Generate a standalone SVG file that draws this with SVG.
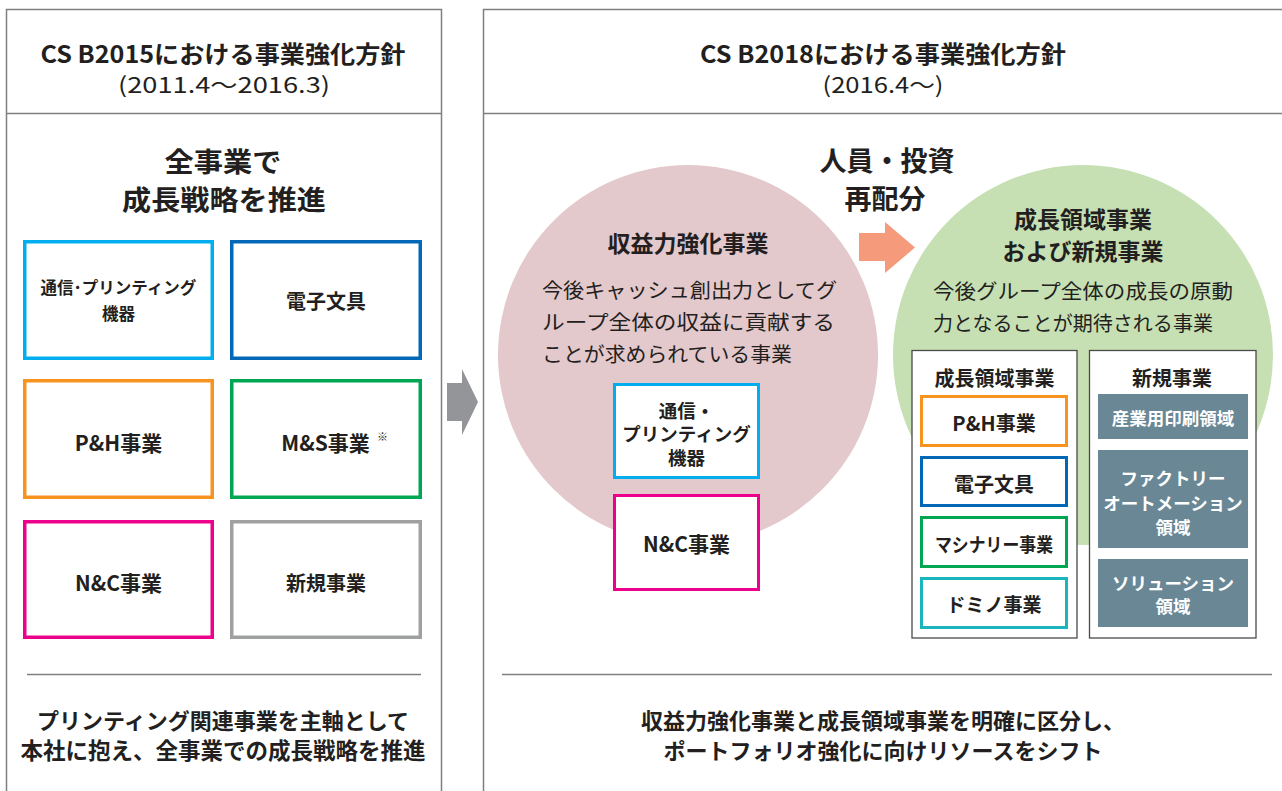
<svg xmlns="http://www.w3.org/2000/svg" width="1282" height="791" viewBox="0 0 1282 791">
<style>
text{font-family:"Noto Sans CJK JP","Noto Sans",sans-serif;fill:#231f20;dominant-baseline:central;text-anchor:middle}
.b{font-weight:700}
.r{font-weight:400}
.l{text-anchor:start}
.w{fill:#ffffff}
.frame{fill:none;stroke:#7f7f7f;stroke-width:1.5}
.rule{fill:none;stroke:#808080;stroke-width:1.3}
.box{fill:#ffffff;stroke-width:3.5}
.ibox{fill:#ffffff;stroke-width:3}
.outer{fill:#ffffff;stroke:#4a4a4a;stroke-width:1.3}
.slate{fill:#6a8796}
</style>
<rect width="1282" height="791" fill="#ffffff"/>

<g id="panel-left">
<path class="frame" d="M6.5,800 V9.5 H441.5 V800 M6.5,113.5 H441.5"/>
<text class="b" x="223" y="52" font-size="24" textLength="365" lengthAdjust="spacingAndGlyphs">CS B2015における事業強化方針</text>
<text class="r" x="224" y="83" font-size="22" textLength="212" lengthAdjust="spacingAndGlyphs">(2011.4～2016.3)</text>
<text class="b" x="223" y="159.5" font-size="27.5" textLength="117" lengthAdjust="spacingAndGlyphs">全事業で</text>
<text class="b" x="224" y="197.5" font-size="27.5" textLength="204" lengthAdjust="spacingAndGlyphs">成長戦略を推進</text>
<path class="rule" d="M27,674.5 H421"/>
<text class="b" x="223" y="719" font-size="22">プリンティング関連事業を主軸として</text>
<text class="b" x="223" y="749" font-size="22.5">本社に抱え、全事業での成長戦略を推進</text>
</g>

<g id="node-tsushin">
<rect class="box" x="24.75" y="241.75" width="187.5" height="116.5" stroke="#00aeef"/>
<text class="b" x="118.5" y="287" font-size="16.5">通信･プリンティング</text>
<text class="b" x="118.5" y="313" font-size="16.5">機器</text>
</g>
<g id="node-denshi">
<rect class="box" x="231.75" y="241.75" width="188.5" height="116.5" stroke="#0068b7"/>
<text class="b" x="326" y="300" font-size="20">電子文具</text>
</g>
<g id="node-ph">
<rect class="box" x="24.75" y="380.75" width="187.5" height="116.5" stroke="#f7931e"/>
<text class="b" x="118.5" y="442" font-size="21">P&amp;H事業</text>
</g>
<g id="node-ms">
<rect class="box" x="231.75" y="380.75" width="188.5" height="116.5" stroke="#00a651"/>
<text class="b" x="325.5" y="442" font-size="21">M&amp;S事業</text>
<text class="r l" x="377" y="436" font-size="11">※</text>
</g>
<g id="node-nc">
<rect class="box" x="24.75" y="521.75" width="187.5" height="115.5" stroke="#ec008c"/>
<text class="b" x="118.5" y="582" font-size="21">N&amp;C事業</text>
</g>
<g id="node-shinki">
<rect class="box" x="231.75" y="521.75" width="188.5" height="115.5" stroke="#9fa0a0"/>
<text class="b" x="326" y="582" font-size="20">新規事業</text>
</g>

<g id="connectors">
<polygon points="447,383 462,383 462,369 478,402 462,435 462,421 447,421" fill="#939598"/>
<polygon points="859,233 885,233 885,222 915,247.5 885,273 885,261 859,261" fill="#f59a7b"/>
</g>

<g id="panel-right">
<path class="frame" d="M483.5,800 V9.5 H1290 M483.5,113.5 H1290"/>
<text class="b" x="883" y="52" font-size="24" textLength="366" lengthAdjust="spacingAndGlyphs">CS B2018における事業強化方針</text>
<text class="r" x="883" y="83" font-size="22" textLength="121" lengthAdjust="spacingAndGlyphs">(2016.4～)</text>
<text class="b" x="887" y="159" font-size="27">人員・投資</text>
<text class="b" x="885" y="197" font-size="27">再配分</text>
<path class="rule" d="M502,674.5 H1272"/>
<text class="b" x="883" y="719" font-size="22">収益力強化事業と成長領域事業を明確に区分し、</text>
<text class="b" x="883" y="749" font-size="22">ポートフォリオ強化に向けリソースをシフト</text>
</g>

<g id="node-shueki">
<circle cx="688" cy="355" r="190" fill="#e3c8cc"/>
<text class="b" x="688" y="242" font-size="23">収益力強化事業</text>
<text class="r l" x="542" y="289" font-size="20.5" textLength="295" lengthAdjust="spacingAndGlyphs">今後キャッシュ創出力としてグ</text>
<text class="r l" x="542" y="321" font-size="20.5" textLength="293" lengthAdjust="spacingAndGlyphs">ループ全体の収益に貢献する</text>
<text class="r l" x="542" y="353" font-size="20.5" textLength="250" lengthAdjust="spacingAndGlyphs">ことが求められている事業</text>
</g>
<g id="node-tsushin2">
<rect class="ibox" x="614.5" y="384.5" width="144" height="93" stroke="#00aeef"/>
<text class="b" x="686.5" y="409.5" font-size="18.5">通信・</text>
<text class="b" x="686.5" y="433" font-size="18.5">プリンティング</text>
<text class="b" x="686.5" y="456.5" font-size="18.5">機器</text>
</g>
<g id="node-nc2">
<rect class="ibox" x="614.5" y="495.5" width="144" height="94" stroke="#ec008c"/>
<text class="b" x="686.5" y="543" font-size="21">N&amp;C事業</text>
</g>

<g id="node-seicho">
<circle cx="1083" cy="355" r="190" fill="#c6e0b4"/>
<text class="b" x="1083" y="218" font-size="23">成長領域事業</text>
<text class="b" x="1083" y="250" font-size="23">および新規事業</text>
<text class="r l" x="933" y="290" font-size="20.5" textLength="300" lengthAdjust="spacingAndGlyphs">今後グループ全体の成長の原動</text>
<text class="r l" x="933" y="322" font-size="20.5" textLength="280" lengthAdjust="spacingAndGlyphs">力となることが期待される事業</text>
</g>

<g id="node-seicho-list">
<rect class="outer" x="912" y="350.5" width="165" height="287.5"/>
<text class="b" x="994.5" y="377" font-size="20">成長領域事業</text>
</g>
<g id="node-ph2">
<rect class="ibox" x="921.5" y="396.5" width="145" height="49" stroke="#f7931e"/>
<text class="b" x="994" y="422" font-size="20">P&amp;H事業</text>
</g>
<g id="node-denshi2">
<rect class="ibox" x="921.5" y="457.5" width="145" height="48" stroke="#0068b7"/>
<text class="b" x="994" y="483" font-size="20">電子文具</text>
</g>
<g id="node-machinery">
<rect class="ibox" x="921.5" y="517.5" width="145" height="49" stroke="#00a651"/>
<text class="b" x="994" y="543" font-size="19" textLength="118" lengthAdjust="spacingAndGlyphs">マシナリー事業</text>
</g>
<g id="node-domino">
<rect class="ibox" x="921.5" y="578.5" width="145" height="49" stroke="#1bb5bd"/>
<text class="b" x="994" y="603" font-size="19">ドミノ事業</text>
</g>

<g id="node-shinki-list">
<rect class="outer" x="1089.5" y="350.5" width="166.5" height="287.5"/>
<text class="b" x="1172" y="377" font-size="20">新規事業</text>
</g>
<g id="node-sangyo">
<rect class="slate" x="1098" y="394" width="150" height="45"/>
<text class="b w" x="1173" y="417" font-size="17.5">産業用印刷領域</text>
</g>
<g id="node-factory">
<rect class="slate" x="1098" y="450" width="150" height="98"/>
<text class="b w" x="1173" y="477" font-size="17.5">ファクトリー</text>
<text class="b w" x="1173" y="502" font-size="17.5">オートメーション</text>
<text class="b w" x="1173" y="526" font-size="17.5">領域</text>
</g>
<g id="node-solution">
<rect class="slate" x="1098" y="559" width="150" height="68"/>
<text class="b w" x="1173" y="582" font-size="17.5">ソリューション</text>
<text class="b w" x="1173" y="605" font-size="17.5">領域</text>
</g>
</svg>
